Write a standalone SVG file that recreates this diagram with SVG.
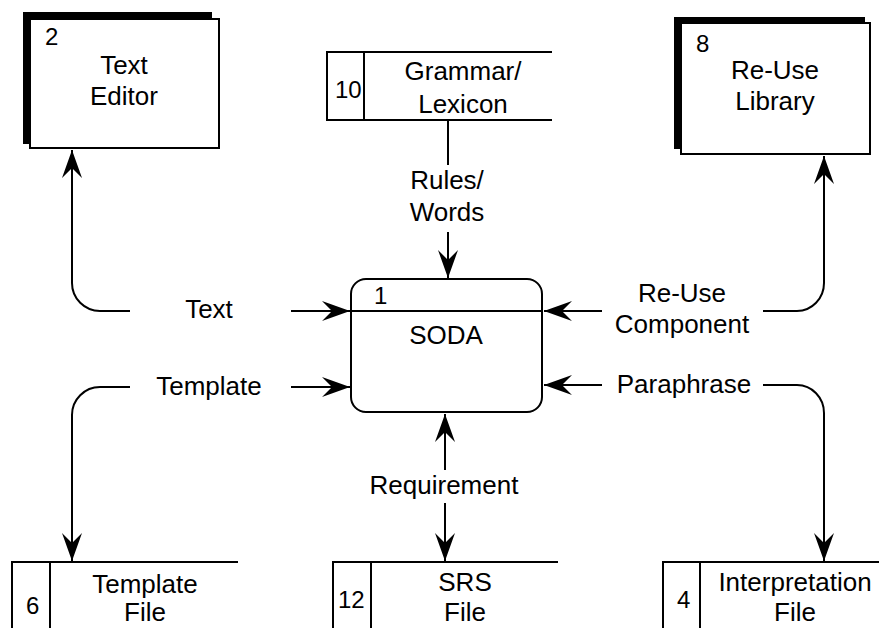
<svg xmlns="http://www.w3.org/2000/svg" width="879" height="628" viewBox="0 0 879 628">
  <defs>
    <marker id="arrow" markerUnits="userSpaceOnUse" markerWidth="30" markerHeight="22" refX="28" refY="11" orient="auto" overflow="visible">
      <path d="M28,11 L0,1 L10,11 L0,21 Z" fill="#000"/>
    </marker>
    <style>
      text { font-family: "Liberation Sans", Arial, sans-serif; fill: #000; }
      .lbl { font-size: 26px; text-anchor: middle; }
      .num { font-size: 24px; }
      .box { fill: #fff; stroke: #000; stroke-width: 2; }
      .shadow { fill: #000; }
      .store { fill: none; stroke: #000; stroke-width: 2; }
      .flow { fill: none; stroke: #000; stroke-width: 2; }
      .arr { marker-end: url(#arrow); }
    </style>
  </defs>
  <rect width="879" height="628" fill="#fff"/>

  <!-- external entity: Text Editor -->
  <g id="text-editor">
    <rect class="shadow" x="23" y="12" width="189" height="132"/>
    <rect class="box" x="30" y="19" width="189" height="129"/>
    <text class="num" x="45" y="45">2</text>
    <text class="lbl" x="124" y="74">Text</text>
    <text class="lbl" x="124" y="105">Editor</text>
  </g>

  <!-- external entity: Re-Use Library -->
  <g id="reuse-library">
    <rect class="shadow" x="674" y="17" width="191" height="132"/>
    <rect class="box" x="681" y="23" width="189" height="131"/>
    <text class="num" x="696" y="52">8</text>
    <text class="lbl" x="775" y="79">Re-Use</text>
    <text class="lbl" x="775" y="110">Library</text>
  </g>

  <!-- data store 10 -->
  <g id="grammar-lexicon">
    <path class="store" d="M552,52 H327 V120 H552 M364,52 V120"/>
    <text class="num" x="335" y="98">10</text>
    <text class="lbl" x="463" y="80">Grammar/</text>
    <text class="lbl" x="463" y="113">Lexicon</text>
  </g>

  <!-- process 1 -->
  <g id="soda">
    <rect class="box" x="351" y="279" width="191" height="133" rx="15"/>
    <line class="store" x1="351" y1="311" x2="542" y2="311"/>
    <text class="num" x="374" y="304">1</text>
    <text class="lbl" x="446" y="344">SODA</text>
  </g>

  <!-- data store 6 -->
  <g id="template-file">
    <path class="store" d="M238,562 H12 V628 M50,562 V628"/>
    <text class="num" x="26" y="614">6</text>
    <text class="lbl" x="145" y="593">Template</text>
    <text class="lbl" x="145" y="621">File</text>
  </g>

  <!-- data store 12 -->
  <g id="srs-file">
    <path class="store" d="M558,562 H333 V628 M371,562 V628"/>
    <text class="num" x="338" y="608">12</text>
    <text class="lbl" x="465" y="591">SRS</text>
    <text class="lbl" x="465" y="621">File</text>
  </g>

  <!-- data store 4 -->
  <g id="interpretation-file">
    <path class="store" d="M879,562 H663 V628 M700,562 V628"/>
    <text class="num" x="677" y="608">4</text>
    <text class="lbl" x="795" y="591">Interpretation</text>
    <text class="lbl" x="795" y="621">File</text>
  </g>

  <!-- data flows -->
  <g id="connectors">
    <path class="flow arr" d="M130,311 H100 A28,28 0 0 1 72,283 V150"/>
    <path class="flow arr" d="M291,311 H350"/>
    <path class="flow arr" d="M291,387 H350"/>
    <path class="flow arr" d="M130,387 H100 A28,28 0 0 0 72,415 V561"/>
    <path class="flow" d="M448,120 V165"/>
    <path class="flow arr" d="M448,232 V278"/>
    <path class="flow arr" d="M602,311 H544"/>
    <path class="flow arr" d="M763,311 H797 A27,28 0 0 0 824,283 V156"/>
    <path class="flow arr" d="M602,385 H544"/>
    <path class="flow arr" d="M763,385 H797 A27,28 0 0 1 824,413 V561"/>
    <path class="flow arr" d="M445,470 V414"/>
    <path class="flow arr" d="M445,503 V561"/>
    <g id="flow-labels">
      <text class="lbl" x="209" y="318">Text</text>
      <text class="lbl" x="209" y="395">Template</text>
      <text class="lbl" x="447" y="189">Rules/</text>
      <text class="lbl" x="447" y="221">Words</text>
      <text class="lbl" x="682" y="302">Re-Use</text>
      <text class="lbl" x="682" y="333">Component</text>
      <text class="lbl" x="684" y="393">Paraphrase</text>
      <text class="lbl" x="444" y="494">Requirement</text>
    </g>
  </g>
</svg>
